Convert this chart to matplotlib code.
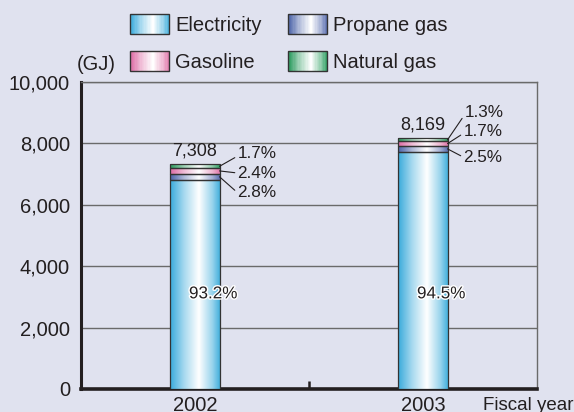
import numpy as np
import matplotlib.pyplot as plt
import matplotlib.patheffects as pe
from matplotlib.colors import LinearSegmentedColormap, to_rgb
from matplotlib.legend_handler import HandlerBase
from matplotlib.patches import Rectangle

plt.rcParams['font.family'] = ['Liberation Sans', 'DejaVu Sans']

# data
years = ['2002', '2003']
totals = [7308, 8169]
electricity_pct = [93.2, 94.5]
propane_pct = [2.8, 2.5]
gasoline_pct = [2.4, 1.7]
natural_gas_pct = [1.7, 1.3]

series = ['Electricity', 'Propane gas', 'Gasoline', 'Natural gas']
pcts = [electricity_pct, propane_pct, gasoline_pct, natural_gas_pct]

# edge colour of each gradient (white in the middle)
edge_cols = {
    'Electricity': ('#38aadb', '#44b0dd'),
    'Propane gas': ('#4a62a8', '#5a6eb0'),
    'Gasoline': ('#dd6aa4', '#e078aa'),
    'Natural gas': ('#26985a', '#2fa062'),
}

BG = '#e0e2ef'
DARK = '#231f20'


def make_cmap(name):
    left, right = edge_cols[name]
    l, r = np.array(to_rgb(left)), np.array(to_rgb(right))
    w = np.ones(3)
    stops = [(0.0, l), (0.28, l * 0.45 + w * 0.55), (0.58, w),
             (0.85, r * 0.55 + w * 0.45), (1.0, r)]
    return LinearSegmentedColormap.from_list(name, stops)


cmaps = {s: make_cmap(s) for s in series}
grad = np.linspace(0, 1, 256).reshape(1, -1)


class GradientHandler(HandlerBase):
    def create_artists(self, legend, orig_handle, xdescent, ydescent,
                       width, height, fontsize, trans):
        cmap = cmaps[orig_handle.get_label()]
        arts = []
        n = 30
        for i in range(n):
            r = Rectangle((-xdescent + width * i / n, -ydescent), width / n + 0.3, height,
                          facecolor=cmap((i + 0.5) / n), edgecolor='none', transform=trans)
            arts.append(r)
        arts.append(Rectangle((-xdescent, -ydescent), width, height, facecolor='none',
                              edgecolor='#333333', linewidth=1.0, transform=trans))
        return arts


fig = plt.figure(figsize=(5.74, 4.12), dpi=100)
fig.patch.set_facecolor(BG)
ax = fig.add_axes([81 / 574, 1 - 389 / 412, (537 - 81) / 574, (389 - 82) / 412])
ax.set_facecolor(BG)

xpos = np.array([0.5, 1.5])
bar_w = 0.215
bottom = np.zeros(2)
bars = {}
for name, p in zip(series, pcts):
    h = np.array(totals) * np.array(p) / 100
    bc = ax.bar(xpos, h, bar_w, bottom=bottom, facecolor='none',
                edgecolor='#333333', linewidth=0.9, zorder=4, label=name)
    for patch in bc:
        x0, y0 = patch.get_x(), patch.get_y()
        im = ax.imshow(grad, cmap=cmaps[name], aspect='auto', zorder=3,
                       extent=[x0, x0 + patch.get_width(), y0, y0 + patch.get_height()])
        im.set_clip_path(patch)
    bars[name] = bc
    bottom = bottom + h

ax.set_xlim(0, 2)
ax.set_ylim(0, 10000)

# grid and spines
ax.set_yticks(range(0, 10001, 2000))
ax.set_yticklabels([f'{v:,}' for v in range(0, 10001, 2000)])
ax.yaxis.grid(True, color='#6a6a6a', linewidth=1.0)
ax.set_axisbelow(True)
ax.tick_params(axis='y', length=0, pad=8, labelsize=14.5, labelcolor=DARK)
for s in ['top', 'right']:
    ax.spines[s].set_color('#6a6a6a')
    ax.spines[s].set_linewidth(1.0)
ax.spines['left'].set_color(DARK)
ax.spines['left'].set_linewidth(2.2)
ax.spines['bottom'].set_color(DARK)
ax.spines['bottom'].set_linewidth(2.6)

ax.set_xticks([1])
ax.set_xticklabels([''])
ax.tick_params(axis='x', which='major', direction='in', length=6, width=1.8, color=DARK)
ax.set_xticks(xpos, years, minor=True)
ax.tick_params(axis='x', which='minor', length=0, pad=5, labelsize=14.5, labelcolor=DARK)

# totals above bars
for patch, tot in zip(bars['Natural gas'], totals):
    ax.annotate(f'{tot:,}', (patch.get_x() + patch.get_width() / 2, patch.get_y() + patch.get_height()),
                xytext=(0, 9.5), textcoords='offset points', ha='center', va='center',
                fontsize=13, color=DARK, zorder=6)

# electricity share inside bar
for patch, p in zip(bars['Electricity'], electricity_pct):
    ax.text(patch.get_x() + patch.get_width() / 2 + 0.08, 3100, f'{p}%', ha='center', va='center',
            fontsize=12.3, color=DARK, zorder=6,
            path_effects=[pe.withStroke(linewidth=2, foreground='white')])

# small shares with leader lines (offsets in points)
offsets = {
    'Natural gas': [(13, 9), (12.5, 20)],
    'Gasoline': [(13, -1.5), (11.5, 9)],
    'Propane gas': [(13, -11.5), (11.5, -6)],
}
for name in ['Natural gas', 'Gasoline', 'Propane gas']:
    idx = series.index(name)
    for i, patch in enumerate(bars[name]):
        p = pcts[idx][i]
        dx, dy = offsets[name][i]
        ax.annotate(f'{p}%', (patch.get_x() + patch.get_width(), patch.get_y() + patch.get_height() / 2),
                    xytext=(dx, dy), textcoords='offset points', ha='left', va='center',
                    fontsize=12.3, color=DARK, zorder=6,
                    arrowprops=dict(arrowstyle='-', color=DARK, lw=0.8, shrinkA=0, shrinkB=0,
                                    relpos=(0, 0.35 if dy > 0 else 0.5)))

fig.text(483 / 574, 1 - 405 / 412, 'Fiscal year', ha='left', va='center', fontsize=13.5, color=DARK)
fig.text(77 / 574, 1 - 64 / 412, '(GJ)', ha='left', va='center', fontsize=14.5, color=DARK)

handles = [bars['Electricity'], bars['Gasoline'], bars['Propane gas'], bars['Natural gas']]
leg_handles = [Rectangle((0, 0), 1, 1, label=h.get_label()) for h in handles]
fig.legend(handles=leg_handles, labels=[h.get_label() for h in handles], ncol=2,
           loc='upper left', bbox_to_anchor=(130 / 574, 1 - 14 / 412), frameon=False,
           fontsize=14.5, handlelength=1.95, handleheight=1.15, handletextpad=0.3,
           columnspacing=1.3, labelspacing=0.8, borderpad=0, borderaxespad=0,
           labelcolor=DARK, handler_map={Rectangle: GradientHandler()})

fig.savefig('out.png', dpi=100, facecolor=BG)
